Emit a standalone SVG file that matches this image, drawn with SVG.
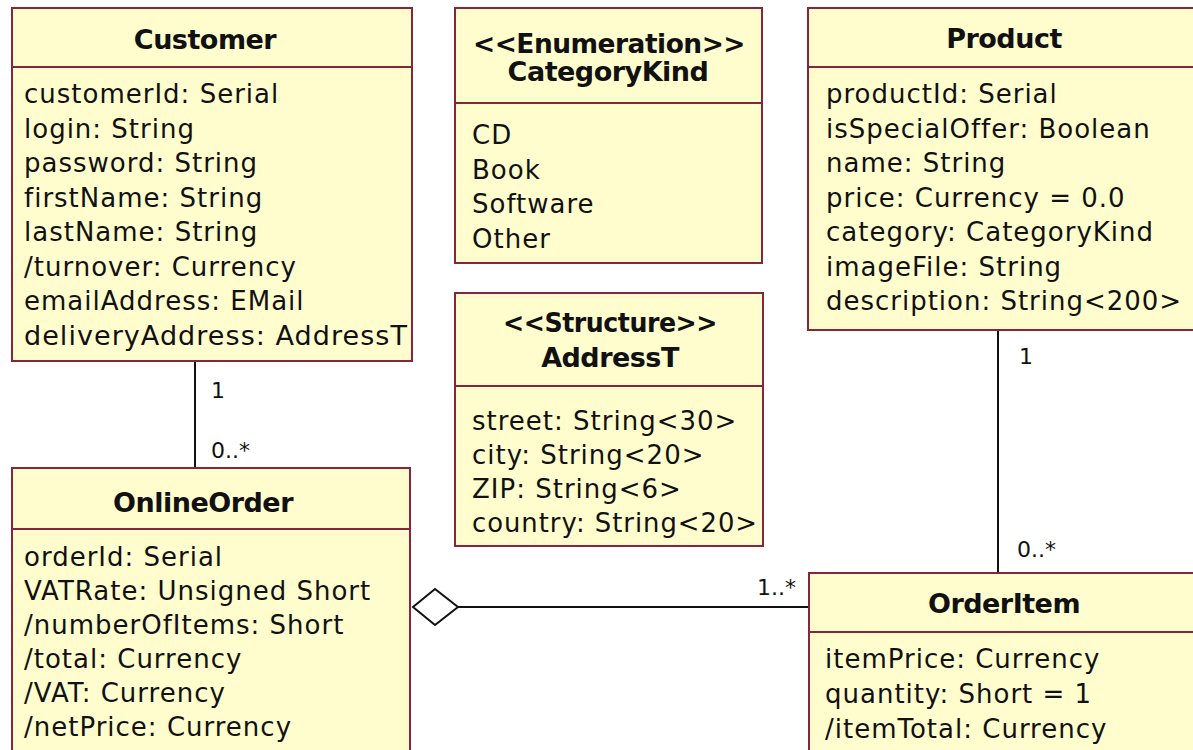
<svg xmlns="http://www.w3.org/2000/svg" width="1193" height="750" viewBox="0 0 1193 750">
<style>
.box{fill:#fffdcd;stroke:#84263c;stroke-width:2}
.div{stroke:#84263c;stroke-width:2}
.t{font-family:"DejaVu Sans",Verdana,sans-serif;font-weight:bold;font-size:27px;fill:#111;text-anchor:middle;letter-spacing:-0.5px}
.a{font-family:"DejaVu Sans",Verdana,sans-serif;font-size:26px;fill:#111;letter-spacing:1px}
.m{font-family:"DejaVu Sans",Verdana,sans-serif;font-size:22px;fill:#111}
.ln{stroke:#111;stroke-width:2;fill:none}
</style>
<rect width="1193" height="750" fill="#fff"/>
<g id="connectors">
<line class="ln" x1="195" y1="361" x2="195" y2="468"/>
<line class="ln" x1="998" y1="330" x2="998" y2="573"/>
<line class="ln" x1="458" y1="607" x2="809" y2="607"/>
<path class="ln" d="M413,607 L435,589 L458,607 L435,625 Z" fill="#fff"/>
<text class="m" x="211" y="398">1</text>
<text class="m" x="211" y="458">0..*</text>
<text class="m" x="1019" y="364">1</text>
<text class="m" x="1017" y="557">0..*</text>
<text class="m" x="757" y="595">1..*</text>
</g>
<g id="Customer">
<rect class="box" x="12" y="8" width="400" height="353"/>
<line class="div" x1="12" y1="67" x2="412" y2="67"/>
<text class="t" x="205" y="49">Customer</text>
<text class="a" x="24" y="103">customerId: Serial</text>
<text class="a" x="24" y="137.5">login: String</text>
<text class="a" x="24" y="172">password: String</text>
<text class="a" x="24" y="206.5">firstName: String</text>
<text class="a" x="24" y="241">lastName: String</text>
<text class="a" x="24" y="275.5">/turnover: Currency</text>
<text class="a" x="24" y="310">emailAddress: EMail</text>
<text class="a" x="24" y="344.5" textLength="384" lengthAdjust="spacingAndGlyphs">deliveryAddress: AddressT</text>
</g>
<g id="CategoryKind">
<rect class="box" x="455" y="8" width="307" height="255"/>
<line class="div" x1="455" y1="103" x2="762" y2="103"/>
<text class="t" x="609" y="53" textLength="272" lengthAdjust="spacingAndGlyphs">&lt;&lt;Enumeration&gt;&gt;</text>
<text class="t" x="608" y="81">CategoryKind</text>
<text class="a" x="472" y="144">CD</text>
<text class="a" x="472" y="178.5">Book</text>
<text class="a" x="472" y="213">Software</text>
<text class="a" x="472" y="247.5">Other</text>
</g>
<g id="AddressT">
<rect class="box" x="455" y="293" width="308" height="253"/>
<line class="div" x1="455" y1="386" x2="763" y2="386"/>
<text class="t" x="610" y="332" textLength="214" lengthAdjust="spacingAndGlyphs">&lt;&lt;Structure&gt;&gt;</text>
<text class="t" x="610" y="367">AddressT</text>
<text class="a" x="472" y="430">street: String&lt;30&gt;</text>
<text class="a" x="472" y="464">city: String&lt;20&gt;</text>
<text class="a" x="472" y="498">ZIP: String&lt;6&gt;</text>
<text class="a" x="472" y="532" textLength="286" lengthAdjust="spacingAndGlyphs">country: String&lt;20&gt;</text>
</g>
<g id="Product">
<rect class="box" x="808" y="8" width="400" height="322"/>
<line class="div" x1="808" y1="67" x2="1200" y2="67"/>
<text class="t" x="1004" y="48">Product</text>
<text class="a" x="826" y="103">productId: Serial</text>
<text class="a" x="826" y="137.5">isSpecialOffer: Boolean</text>
<text class="a" x="826" y="172">name: String</text>
<text class="a" x="826" y="206.5">price: Currency = 0.0</text>
<text class="a" x="826" y="241">category: CategoryKind</text>
<text class="a" x="826" y="275.5">imageFile: String</text>
<text class="a" x="826" y="310" textLength="356" lengthAdjust="spacingAndGlyphs">description: String&lt;200&gt;</text>
</g>
<g id="OnlineOrder">
<rect class="box" x="12" y="468" width="398" height="300"/>
<line class="div" x1="12" y1="529" x2="410" y2="529"/>
<text class="t" x="203" y="512">OnlineOrder</text>
<text class="a" x="24" y="566">orderId: Serial</text>
<text class="a" x="24" y="600">VATRate: Unsigned Short</text>
<text class="a" x="24" y="634">/numberOfItems: Short</text>
<text class="a" x="24" y="668">/total: Currency</text>
<text class="a" x="24" y="702">/VAT: Currency</text>
<text class="a" x="24" y="736">/netPrice: Currency</text>
</g>
<g id="OrderItem">
<rect class="box" x="809" y="573" width="400" height="200"/>
<line class="div" x1="809" y1="632" x2="1200" y2="632"/>
<text class="t" x="1004" y="613">OrderItem</text>
<text class="a" x="825" y="668">itemPrice: Currency</text>
<text class="a" x="825" y="703">quantity: Short = 1</text>
<text class="a" x="825" y="738">/itemTotal: Currency</text>
</g>
</svg>
